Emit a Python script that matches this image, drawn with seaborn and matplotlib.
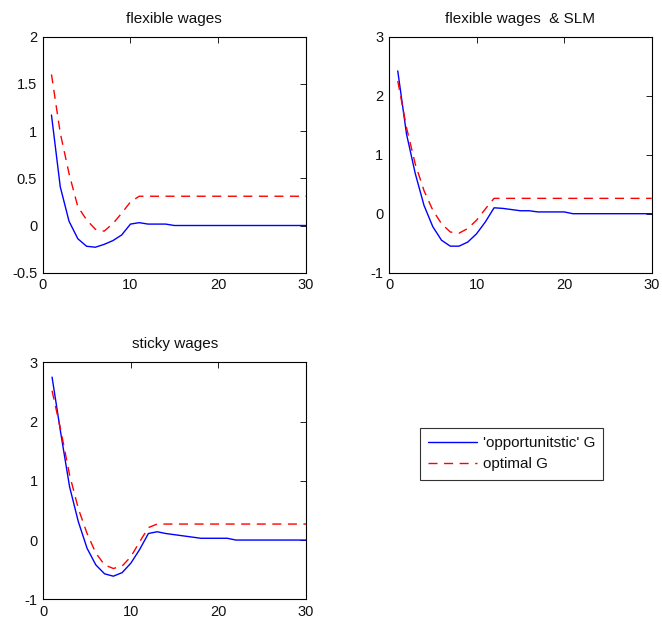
import matplotlib
matplotlib.use("Agg")
import matplotlib.pyplot as plt
import numpy as np
import pandas as pd
import seaborn as sns

# --- data (periods 1..30) ---
periods = list(range(1, 31))

flex_opportunistic = [1.17, 0.41, 0.045, -0.14, -0.22, -0.23, -0.20, -0.16, -0.10, 0.015,
                      0.03, 0.015, 0.015, 0.015, 0.0, 0.0, 0.0, 0.0, 0.0, 0.0,
                      0.0, 0.0, 0.0, 0.0, 0.0, 0.0, 0.0, 0.0, 0.0, 0.0]
flex_optimal = [1.60, 0.98, 0.55, 0.20, 0.06, -0.04, -0.06, 0.02, 0.13, 0.25,
                0.31, 0.31, 0.31, 0.31, 0.31, 0.31, 0.31, 0.31, 0.31, 0.31,
                0.31, 0.31, 0.31, 0.31, 0.31, 0.31, 0.31, 0.31, 0.31, 0.31]

slm_opportunistic = [2.42, 1.35, 0.68, 0.14, -0.22, -0.45, -0.55, -0.55, -0.48, -0.34,
                     -0.14, 0.10, 0.09, 0.07, 0.05, 0.05, 0.03, 0.03, 0.03, 0.03,
                     0.0, 0.0, 0.0, 0.0, 0.0, 0.0, 0.0, 0.0, 0.0, 0.0]
slm_optimal = [2.25, 1.46, 0.84, 0.39, 0.06, -0.17, -0.31, -0.33, -0.25, -0.11,
               0.08, 0.26, 0.26, 0.26, 0.26, 0.26, 0.26, 0.26, 0.26, 0.26,
               0.26, 0.26, 0.26, 0.26, 0.26, 0.26, 0.26, 0.26, 0.26, 0.26]

sticky_opportunistic = [2.75, 1.80, 0.90, 0.31, -0.14, -0.42, -0.57, -0.61, -0.55, -0.39,
                        -0.16, 0.11, 0.14, 0.11, 0.09, 0.07, 0.05, 0.03, 0.03, 0.03,
                        0.03, 0.0, 0.0, 0.0, 0.0, 0.0, 0.0, 0.0, 0.0, 0.0]
sticky_optimal = [2.52, 1.85, 1.10, 0.53, 0.11, -0.22, -0.42, -0.48, -0.44, -0.28,
                  -0.03, 0.21, 0.27, 0.27, 0.27, 0.27, 0.27, 0.27, 0.27, 0.27,
                  0.27, 0.27, 0.27, 0.27, 0.27, 0.27, 0.27, 0.27, 0.27, 0.27]

titles = ["flexible wages", "flexible wages  & SLM", "sticky wages"]
ylims = [(-0.5, 2), (-1, 3), (-1, 3)]
yticks = [[-0.5, 0, 0.5, 1, 1.5, 2], [-1, 0, 1, 2, 3], [-1, 0, 1, 2, 3]]
ytick_labels = [["-0.5", "0", "0.5", "1", "1.5", "2"],
                ["-1", "0", "1", "2", "3"],
                ["-1", "0", "1", "2", "3"]]
series_labels = ["'opportunitstic' G", "optimal G"]

sns.set_style("white")
plt.rcParams["font.family"] = ["Liberation Sans", "DejaVu Sans"]
plt.rcParams["font.size"] = 10
plt.rcParams["text.color"] = "#111111"
plt.rcParams["xtick.color"] = "#111111"
plt.rcParams["ytick.color"] = "#111111"

fig = plt.figure(figsize=(6.62, 6.25), dpi=100)
W, H = 662, 625
# axes boxes in pixels: left, top, right, bottom
boxes = [(42.7, 36.7, 306, 272.7), (389, 36.7, 651.7, 272.7), (43.3, 362.3, 306, 599.3)]

panels = [(flex_opportunistic, flex_optimal),
          (slm_opportunistic, slm_optimal),
          (sticky_opportunistic, sticky_optimal)]

dash = (0, (6.5, 4.7))

for i, (opp, opt) in enumerate(panels):
    l, t, r, b = boxes[i]
    ax = fig.add_axes([l / W, 1 - b / H, (r - l) / W, (b - t) / H])
    df = pd.DataFrame({"period": periods, "opp": opp, "opt": opt})
    sns.lineplot(data=df, x="period", y="opp", color="blue", lw=1.0, ax=ax,
                 label=series_labels[0], legend=False)
    sns.lineplot(data=df, x="period", y="opt", color="red", lw=1.0, ax=ax,
                 label=series_labels[1], legend=False, linestyle=dash)
    ax.set_xlim(0, 30)
    ax.set_ylim(*ylims[i])
    ax.set_xticks([0, 10, 20, 30])
    ax.set_yticks(yticks[i])
    ax.set_yticklabels(ytick_labels[i])
    ax.set_xlabel("")
    ax.set_ylabel("")
    ax.set_title(titles[i], fontsize=11, pad=10, color="#111111")
    ax.tick_params(direction="in", top=True, right=True, length=4, width=0.6,
                   labelsize=10.5, pad=4, color="black", labelcolor="#111111")
    for s in ax.spines.values():
        s.set_color("black")
        s.set_linewidth(0.8)
    if i == 2:
        handles, labels = ax.get_legend_handles_labels()

# legend placed in the empty fourth slot
leg = fig.legend(handles, labels, loc="upper left",
                 bbox_to_anchor=(420 / W, 1 - 428 / H), frameon=True, fancybox=False,
                 edgecolor="black", fontsize=11, handlelength=3.2, borderpad=0.55,
                 labelspacing=0.45, handletextpad=0.35, borderaxespad=0)
leg.get_frame().set_linewidth(0.8)

fig.savefig("out.png", dpi=100, facecolor="white")
